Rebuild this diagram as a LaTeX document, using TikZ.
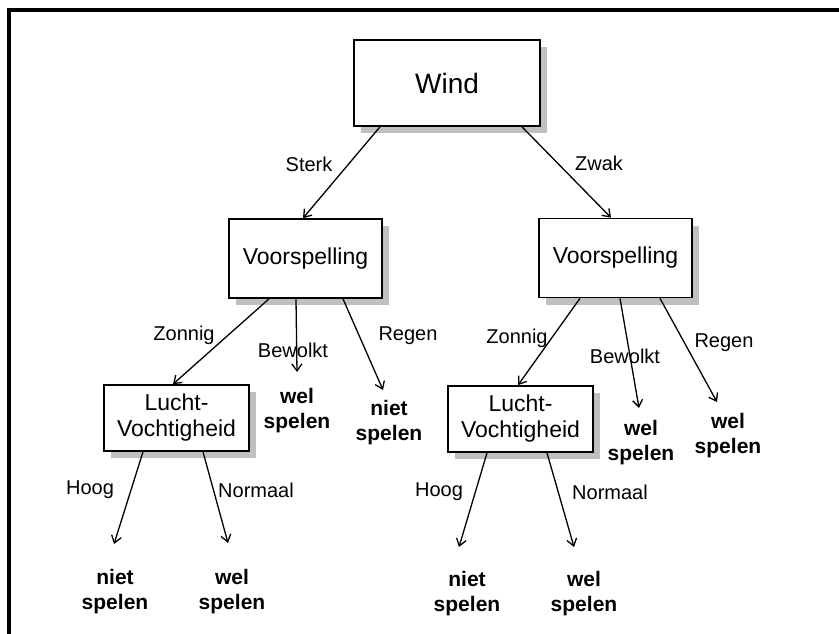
\documentclass[tikz,border=0pt]{standalone}
\usepackage{fontspec}
\setmainfont{Liberation Sans}
\usetikzlibrary{arrows.meta,shadows,calc}
\begin{document}
\begin{tikzpicture}[x=1pt,y=-1pt,
  box/.style={draw=black, line width=1.7pt, fill=white, inner sep=0pt, align=center,
    drop shadow={shadow xshift=7pt, shadow yshift=-7pt, fill=black!25, opacity=1}},
  rootbox/.style={box, minimum width=186pt, minimum height=86pt, font=\fontsize{28}{32}\selectfont},
  testbox/.style={box, minimum width=153pt, minimum height=79pt, font=\fontsize{23}{26}\selectfont},
  humbox/.style={box, minimum width=145pt, minimum height=66pt, font=\fontsize{23}{26}\selectfont},
  lbl/.style={inner sep=0pt, font=\fontsize{20}{24}\selectfont},
  leaf/.style={inner sep=0pt, align=center, font=\fontsize{21}{25}\selectfont\bfseries},
  arr/.style={line width=1.3pt, -{Straight Barb[length=7pt,width=10pt,line width=1.3pt]}}
]
\useasboundingbox (0,0) rectangle (839,634);

% frame
\draw[line width=3.5pt] (9,634) -- (9,10) -- (839,10);

% decision nodes
\node[rootbox] (wind) at (447,83) {Wind};
\node[testbox] (vl) at (305.5,258.5) {Voorspelling};
\node[testbox] (vr) at (615.5,258) {Voorspelling};
\node[humbox] (ll) at (176.5,418) {Lucht-\\Vochtigheid};
\node[humbox] (lr) at (520.5,419) {Lucht-\\Vochtigheid};

% leaves
\node[leaf] (l1) at (297,411) {wel\\spelen};
\node[leaf] (l2) at (389,423) {niet\\spelen};
\node[leaf] (l3) at (641,443) {wel\\spelen};
\node[leaf] (l4) at (728,436) {wel\\spelen};
\node[leaf] (l5) at (115,592) {niet\\spelen};
\node[leaf] (l6) at (232,592) {wel\\spelen};
\node[leaf] (l7) at (467,594) {niet\\spelen};
\node[leaf] (l8) at (584,594) {wel\\spelen};

% arrow tips above the leaves
\coordinate (t1) at (297,372);
\coordinate (t2) at (383,390);
\coordinate (t3) at (639,408);
\coordinate (t4) at (717,402);
\coordinate (t5) at (114,544);
\coordinate (t6) at (228,543);
\coordinate (t7) at (459,547);
\coordinate (t8) at (574,547);

% connectors
\draw[arr] ($(wind.south)+(-67,0)$) -- ($(vl.north)+(-2.5,0)$);
\draw[arr] ($(wind.south)+(75,0)$) -- ($(vr.north)+(-4.5,0)$);

\draw[arr] ($(vl.south)+(-36.5,0)$) -- ($(ll.north)+(-3.5,0)$);
\draw[arr] ($(vl.south)+(-9.5,0)$) -- (t1);
\draw[arr] ($(vl.south)+(37.5,0)$) -- (t2);

\draw[arr] ($(vr.south)+(-35.5,0)$) -- ($(lr.north)+(-2.5,0)$);
\draw[arr] ($(vr.south)+(4.5,0)$) -- (t3);
\draw[arr] ($(vr.south)+(44.5,0)$) -- (t4);

\draw[arr] ($(ll.south)+(-33.5,0)$) -- (t5);
\draw[arr] ($(ll.south)+(26.5,0)$) -- (t6);
\draw[arr] ($(lr.south)+(-33.5,0)$) -- (t7);
\draw[arr] ($(lr.south)+(26.5,0)$) -- (t8);

% edge labels
\node[lbl] (e1) at (309,164) {Sterk};
\node[lbl] (e2) at (599,163) {Zwak};
\node[lbl] (e3) at (184,335) {Zonnig};
\node[lbl] (e4) at (293,350) {Bewolkt};
\node[lbl] (e5) at (408,336) {Regen};
\node[lbl] (e6) at (517,338) {Zonnig};
\node[lbl] (e7) at (625,356) {Bewolkt};
\node[lbl] (e8) at (724,343) {Regen};
\node[lbl] (e9) at (90,490) {Hoog};
\node[lbl] (e10) at (256,490) {Normaal};
\node[lbl] (e11) at (439,492) {Hoog};
\node[lbl] (e12) at (610,492) {Normaal};
\end{tikzpicture}
\end{document}
